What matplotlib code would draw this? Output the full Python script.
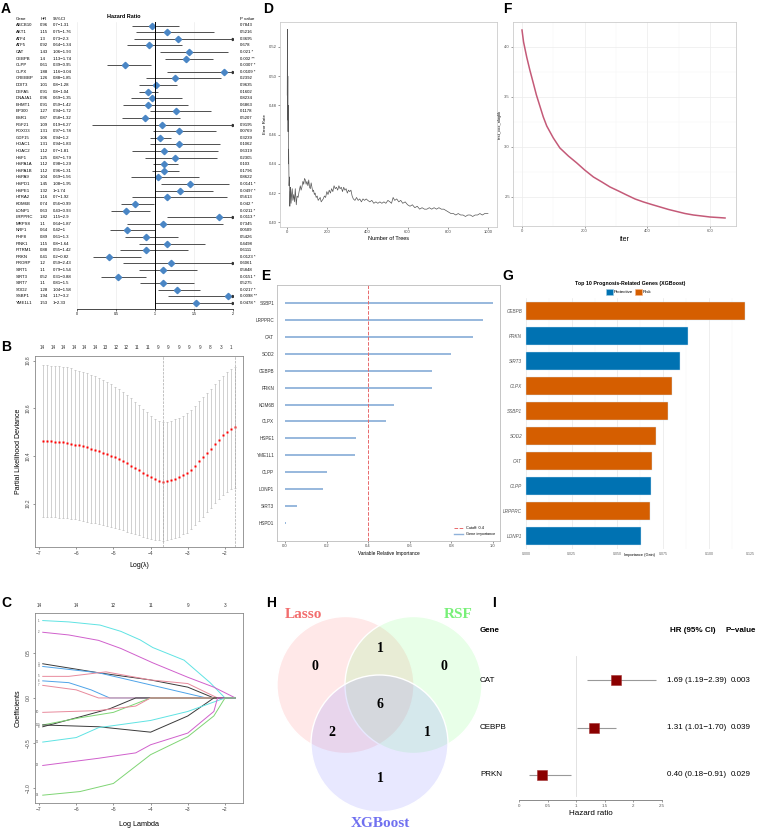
import numpy as np
import matplotlib
matplotlib.use("Agg")
import matplotlib.pyplot as plt
from matplotlib.patches import Circle, Patch
from matplotlib.lines import Line2D
from matplotlib.transforms import blended_transform_factory

# ---------------- data ----------------
# A: univariate Cox regression
genes_a = ["ABCB10", "AKT1", "ATF4", "ATF5", "CAT", "CEBPB", "CLPP", "CLPX", "CREBBP", "DDIT3",
           "DEFA5", "DNAJA1", "EHMT1", "EP300", "ESR1", "FGF21", "FOXO3", "GDF15", "HDAC1", "HDAC2",
           "HSF1", "HSPA1A", "HSPA1B", "HSPA9", "HSPD1", "HSPE1", "HTRA2", "KDM6B", "LONP1", "LRPPRC",
           "MRPS8", "NRF1", "PHF8", "PINK1", "PITRM1", "PRKN", "PRORP", "SIRT1", "SIRT3", "SIRT7",
           "SOD2", "SSBP1", "YME1L1"]
hr_a = [0.96, 1.15, 1.3, 0.92, 1.43, 1.4, 0.61, 1.88, 1.26, 1.01,
        0.91, 0.96, 0.91, 1.27, 0.87, 1.09, 1.31, 1.06, 1.31, 1.12,
        1.25, 1.12, 1.12, 1.04, 1.45, 1.32, 1.16, 0.74, 0.63, 1.82,
        1.1, 0.64, 0.89, 1.15, 0.88, 0.41, 1.2, 1.1, 0.52, 1.1,
        1.28, 1.94, 1.53]
lo_a = [0.7, 0.75, 0.73, 0.64, 1.06, 1.13, 0.39, 1.16, 0.88, 0.8,
        0.8, 0.69, 0.59, 0.94, 0.58, 0.19, 0.97, 0.94, 0.94, 0.7,
        0.87, 0.98, 0.96, 0.69, 1.08, 1, 0.7, 0.56, 0.43, 1.15,
        0.64, 0.42, 0.61, 0.8, 0.55, 0.2, 0.59, 0.79, 0.31, 0.81,
        1.04, 1.17, 1]
hi_a = [1.31, 1.76, 2.3, 1.34, 1.93, 1.74, 0.95, 3.04, 1.85, 1.28,
        1.04, 1.35, 1.42, 1.72, 1.32, 6.27, 1.78, 1.2, 1.83, 1.81,
        1.79, 1.29, 1.31, 1.56, 1.95, 1.74, 1.92, 0.99, 0.93, 2.9,
        1.87, 1, 1.3, 1.64, 1.42, 0.82, 2.43, 1.54, 0.88, 1.5,
        1.58, 3.2, 2.33]
p_a = ["0.7843", "0.5216", "0.3695", "0.678", "0.021 *", "0.002 **", "0.0307 *", "0.0109 *", "0.2392", "0.9635",
       "0.1602", "0.8234", "0.6863", "0.1178", "0.5207", "0.9195", "0.0769", "0.3239", "0.1062", "0.6319",
       "0.2305", "0.103", "0.1796", "0.8622", "0.0141 *", "0.0497 *", "0.5613", "0.042 *", "0.0211 *", "0.0113 *",
       "0.7345", "0.0509", "0.5426", "0.4498", "0.6111", "0.0123 *", "0.6061", "0.5848", "0.0151 *", "0.5275",
       "0.0217 *", "0.0098 **", "0.0478 *"]

# B: LASSO cross-validation
cv_mean = [10.462, 10.462, 10.461, 10.460, 10.459, 10.457, 10.455, 10.452, 10.448, 10.444,
           10.440, 10.436, 10.431, 10.426, 10.420, 10.414, 10.408, 10.401, 10.394, 10.386,
           10.378, 10.369, 10.360, 10.350, 10.340, 10.330, 10.320, 10.311, 10.303, 10.297,
           10.292, 10.296, 10.300, 10.305, 10.311, 10.320, 10.329, 10.342, 10.359, 10.379,
           10.396, 10.414, 10.431, 10.452, 10.468, 10.487, 10.502, 10.513, 10.520]
cv_se = [0.318, 0.318, 0.318, 0.317, 0.317, 0.316, 0.316, 0.315, 0.314, 0.313,
         0.312, 0.311, 0.310, 0.309, 0.307, 0.305, 0.303, 0.300, 0.297, 0.294,
         0.290, 0.286, 0.282, 0.278, 0.273, 0.268, 0.263, 0.258, 0.254, 0.251,
         0.249, 0.248, 0.248, 0.248, 0.249, 0.249, 0.250, 0.250, 0.250, 0.250,
         0.250, 0.249, 0.248, 0.248, 0.249, 0.250, 0.252, 0.253, 0.254]
cv_loglam_range = (-6.9, -1.72)
cv_nonzero = [14, 14, 14, 14, 14, 14, 13, 12, 12, 11, 11, 9, 9, 9, 9, 9, 8, 3, 1]
lam_min, lam_1se = -3.66, -1.72

# C: LASSO coefficient paths (log lambda, coefficient) knots
path_colors = ["#5fe3e3", "#d060cc", "#3a3a3a", "#4ea3e8", "#e88a9c", "#4ea3e8", "#e88a9c",
               "#3a3a3a", "#7fd574", "#e88a9c", "#3a3a3a", "#5fe3e3", "#d060cc", "#7fd574"]
coef_paths = [
    [(-6.9, 0.86), (-6.2, 0.845), (-5.36, 0.81), (-4.8, 0.74), (-4.28, 0.645), (-3.94, 0.56), (-3.1, 0.42), (-2.4, 0.17), (-2.0, 0.0), (-1.72, 0.0)],
    [(-6.9, 0.73), (-6.2, 0.70), (-5.4, 0.64), (-4.8, 0.55), (-3.94, 0.39), (-3.0, 0.23), (-2.3, 0.12), (-1.72, 0.0)],
    [(-6.9, 0.38), (-5.4, 0.28), (-4.0, 0.20), (-3.0, 0.12), (-2.3, 0.0), (-1.72, 0.0)],
    [(-6.9, 0.35), (-5.4, 0.28), (-4.0, 0.145), (-2.5, 0.0), (-1.72, 0.0)],
    [(-6.9, 0.24), (-6.2, 0.24), (-5.2, 0.29), (-4.0, 0.20), (-3.0, 0.16), (-2.2, 0.0), (-1.72, 0.0)],
    [(-6.9, 0.19), (-6.2, 0.17), (-5.6, 0.09), (-5.1, 0.0), (-1.72, 0.0)],
    [(-6.9, 0.14), (-6.0, 0.09), (-5.4, 0.0), (-1.72, 0.0)],
    [(-6.9, -0.32), (-5.9, -0.21), (-5.1, -0.12), (-4.4, 0.0), (-1.72, 0.0)],
    [(-6.9, -0.30), (-5.9, -0.22), (-5.0, -0.16), (-4.0, 0.0), (-1.72, 0.0)],
    [(-6.9, -0.16), (-5.4, -0.14), (-4.4, -0.09), (-4.0, 0.0), (-1.72, 0.0)],
    [(-6.9, -0.30), (-5.4, -0.32), (-4.0, -0.38), (-3.0, -0.20), (-2.3, 0.0), (-1.72, 0.0)],
    [(-6.9, -0.49), (-6.0, -0.44), (-5.4, -0.33), (-4.0, -0.25), (-3.0, -0.15), (-2.0, 0.0), (-1.72, 0.0)],
    [(-6.9, -0.75), (-5.4, -0.67), (-4.4, -0.61), (-4.0, -0.52), (-3.0, -0.39), (-2.3, -0.15), (-2.2, 0.0), (-1.72, 0.0)],
    [(-6.9, -1.08), (-5.9, -1.04), (-5.0, -0.95), (-4.0, -0.63), (-3.0, -0.43), (-2.3, -0.20), (-2.0, 0.0), (-1.72, 0.0)],
]
path_top_ticks = [-7, -6, -5, -4, -3, -2]
path_top_labels = ["14", "14", "12", "11", "9", "3"]

# D: random survival forest error rate (trees, error)
rf_curve = [(1, 0.487), (2, 0.532), (3, 0.470), (4, 0.500), (5, 0.462), (6, 0.480), (7, 0.440), (8, 0.450),
            (10, 0.425), (12, 0.431), (14, 0.411), (16, 0.421), (18, 0.424), (20, 0.413), (23, 0.419),
            (26, 0.423), (29, 0.415), (33, 0.419), (37, 0.414), (41, 0.423), (46, 0.412), (50, 0.418),
            (55, 0.417), (60, 0.421), (66, 0.425), (70, 0.422), (74, 0.424), (79, 0.428), (83, 0.426),
            (87, 0.430), (91, 0.429), (95, 0.426), (99, 0.428), (104, 0.425), (108, 0.429), (112, 0.424),
            (116, 0.423), (120, 0.427), (124, 0.424), (128, 0.421), (132, 0.422), (136, 0.419), (140, 0.420),
            (145, 0.417), (150, 0.418), (155, 0.415), (160, 0.416), (165, 0.417), (170, 0.414), (175, 0.415),
            (180, 0.416), (186, 0.418), (192, 0.417), (198, 0.421), (204, 0.419), (210, 0.422), (216, 0.420),
            (222, 0.423), (228, 0.421), (234, 0.425), (240, 0.423), (246, 0.424), (252, 0.422), (258, 0.425),
            (264, 0.423), (270, 0.424), (276, 0.421), (282, 0.424), (288, 0.422), (294, 0.423), (300, 0.420),
            (306, 0.422), (312, 0.421), (318, 0.422), (324, 0.418), (330, 0.416), (338, 0.415), (346, 0.417),
            (354, 0.415), (362, 0.416), (370, 0.414), (378, 0.416), (386, 0.415), (394, 0.416), (402, 0.415),
            (412, 0.414), (422, 0.415), (432, 0.413), (442, 0.414), (452, 0.413), (462, 0.414), (472, 0.413),
            (482, 0.414), (492, 0.413), (502, 0.415), (512, 0.414), (520, 0.413), (528, 0.417), (536, 0.415),
            (546, 0.416), (556, 0.414), (566, 0.415), (576, 0.413), (588, 0.414), (600, 0.412), (612, 0.411),
            (624, 0.412), (636, 0.410), (648, 0.411), (660, 0.409), (672, 0.410), (684, 0.409), (696, 0.409),
            (708, 0.410), (720, 0.409), (732, 0.410), (744, 0.409), (756, 0.410), (768, 0.409), (780, 0.409),
            (792, 0.408), (804, 0.407), (816, 0.406), (828, 0.406), (840, 0.405), (852, 0.406), (864, 0.405),
            (876, 0.405), (888, 0.404), (900, 0.405), (912, 0.405), (924, 0.404), (936, 0.405), (948, 0.405),
            (960, 0.406), (972, 0.405), (984, 0.406), (996, 0.406), (1000, 0.406)]

# E: RSF variable importance
rsf_genes = ["SSBP1", "LRPPRC", "CAT", "SOD2", "CEBPB", "PRKN", "KDM6B", "CLPX", "HSPE1", "YME1L1",
             "CLPP", "LONP1", "SIRT3", "HSPD1"]
rsf_imp = [1.0, 0.95, 0.904, 0.80, 0.706, 0.705, 0.526, 0.486, 0.342, 0.339, 0.20, 0.181, 0.056, 0.005]
rsf_cutoff = 0.4

# F: XGBoost training loss
xgb_curve = [(0, 4.17), (5, 4.05), (15, 3.90), (25, 3.77), (36, 3.64), (46, 3.52), (57, 3.41), (68, 3.30),
             (79, 3.21), (100, 3.09), (121, 2.99), (148, 2.91), (175, 2.84), (200, 2.77), (228, 2.70),
             (255, 2.65), (281, 2.60), (308, 2.56), (334, 2.52), (361, 2.48), (388, 2.45), (414, 2.425),
             (441, 2.40), (468, 2.375), (494, 2.355), (520, 2.335), (547, 2.32), (574, 2.31), (600, 2.30),
             (625, 2.295), (648, 2.29)]

# G: XGBoost top-10 importance
g_genes = ["CEBPB", "PRKN", "SIRT3", "CLPX", "SSBP1", "SOD2", "CAT", "CLPP", "LRPPRC", "LONP1"]
g_imp = [0.1197, 0.0885, 0.0842, 0.0801, 0.0774, 0.0710, 0.0689, 0.0683, 0.0679, 0.0628]
g_dir = ["Risk", "Protective", "Protective", "Risk", "Risk", "Risk", "Risk", "Protective", "Risk", "Protective"]

# H: Venn counts
venn_sets = ["Lasso", "RSF", "XGBoost"]
venn_counts = {"L": 0, "R": 0, "X": 1, "LR": 1, "LX": 2, "RX": 1, "LRX": 6}

# I: multivariate Cox
i_genes = ["CAT", "CEBPB", "PRKN"]
i_hr = [1.69, 1.31, 0.40]
i_lo = [1.19, 1.01, 0.18]
i_hi = [2.39, 1.70, 0.91]
i_p = ["0.003", "0.039", "0.029"]

# ---------------- figure ----------------
plt.rcParams['font.family'] = ['Liberation Sans', 'DejaVu Sans']
W, H = 757, 831
fig = plt.figure(figsize=(W / 100, H / 100), dpi=100)


def px_ax(x0, y0, x1, y1):
    return fig.add_axes([x0 / W, 1 - y1 / H, (x1 - x0) / W, (y1 - y0) / H])


def ft(x, y, s, **kw):
    return fig.text(x / W, 1 - y / H, s, **kw)


# panel letters
for lab, (x, y) in {"A": (6, 9), "B": (6, 347), "C": (6, 603), "D": (268, 9), "E": (266, 276),
                    "F": (507, 9), "G": (508, 276), "H": (271, 603), "I": (494, 603)}.items():
    ft(x, y, lab, fontsize=10, fontweight="bold", ha="center", va="center")

# ---------- A ----------
axA = px_ax(77, 22, 233, 309)
n = len(genes_a)
ya = np.arange(n)
pitch = (303 - 25.5) / (n - 1)
axA.set_xlim(0, 2)
axA.set_ylim((309 - 25.5) / pitch, (22 - 25.5) / pitch)
hi_clip = np.minimum(hi_a, 2)
axA.hlines(ya, lo_a, hi_clip, color="#333333", lw=0.6)
axA.plot(hr_a, ya, "D", color="#4a86c5", ms=3.2, mec="#4a86c5")
clipped = [i for i in range(n) if hi_a[i] > 2]
axA.plot(hi_clip[clipped], ya[clipped], ">", color="#333333", ms=1.6)
axA.axvline(1, color="black", lw=0.7)
axA.set_xticks([0, 0.5, 1, 1.5, 2])
axA.set_xticklabels(["0", "0.5", "1", "1.5", "2"], fontsize=2.6)
axA.tick_params(axis="x", length=1.2, width=0.4, pad=1)
axA.set_yticks([])
axA.grid(axis="x", color="#e6e6e6", lw=0.4)
axA.set_axisbelow(True)
for s in ["left", "right", "top"]:
    axA.spines[s].set_visible(False)
axA.spines["bottom"].set_linewidth(0.5)
dx = lambda px: (px - 77) / 78.0
hdr = (19 - 25.5) / pitch
axA.text(dx(16), hdr, "Gene", fontsize=3.2, va="center")
axA.text(dx(41), hdr, "HR", fontsize=3.2, va="center")
axA.text(dx(53), hdr, "95%CI", fontsize=3.2, va="center")
axA.text(dx(240), hdr, "P value", fontsize=3.2, va="center")
axA.text(dx(124), (16 - 25.5) / pitch, "Hazard Ratio", fontsize=4, fontweight="bold", ha="center", va="center")
for i in range(n):
    axA.text(dx(16), i, genes_a[i], fontsize=3.1, va="center")
    axA.text(dx(40), i, f"{hr_a[i]:g}", fontsize=3.1, va="center")
    axA.text(dx(53), i, f"{lo_a[i]:g}\u2212{hi_a[i]:g}", fontsize=3.1, va="center")
    axA.text(dx(240), i, p_a[i], fontsize=3.1, va="center")

# ---------- B ----------
axB = px_ax(35, 356, 243, 547)
loglam = np.linspace(cv_loglam_range[0], cv_loglam_range[1], len(cv_mean))
axB.errorbar(loglam, cv_mean, yerr=cv_se, fmt="none", ecolor="#bdbdbd", elinewidth=0.5, capsize=1.0, capthick=0.5)
axB.plot(loglam, cv_mean, "s", color="red", ms=1.6, mec="none")
axB.axvline(lam_min, ls="--", color="#aaaaaa", lw=0.5)
axB.axvline(lam_1se, ls="--", color="#aaaaaa", lw=0.5)
axB.set_xlim(-7.108, -1.516)
axB.set_ylim(10.0184, 10.819)
axB.set_xticks([-7, -6, -5, -4, -3, -2])
axB.set_yticks([10.2, 10.4, 10.6, 10.8])
axB.set_yticklabels(["10.2", "10.4", "10.6", "10.8"], rotation=90, va="center")
axB.tick_params(labelsize=3.5, length=1.5, width=0.4, pad=1.5, colors="#444444")
for s in axB.spines.values():
    s.set_color("#888888")
    s.set_linewidth(0.6)
axB.set_xlabel("Log(\u03bb)", fontsize=5, labelpad=4)
axB.set_ylabel("Partial Likelihood Deviance", fontsize=5, labelpad=3)
top_pos = np.linspace(-6.9, -1.83, len(cv_nonzero))
trB = axB.get_xaxis_transform()
for xp, nz in zip(top_pos, cv_nonzero):
    axB.text(xp, 1.042, str(nz), transform=trB, fontsize=3.3, ha="center", va="center", color="#333333")

# ---------- C ----------
axC = px_ax(35, 613, 243, 803)
for k, (pts, col) in enumerate(zip(coef_paths, path_colors)):
    xs = [p[0] for p in pts]
    ys = [p[1] for p in pts]
    axC.plot(xs, ys, color=col, lw=0.7)
    axC.text(-7.0, ys[0], str(k + 1), fontsize=2, ha="right", va="center", color="#555555")
axC.set_xlim(-7.108, -1.516)
axC.set_ylim(-1.167, 0.944)
axC.set_xticks([-7, -6, -5, -4, -3, -2])
axC.set_yticks([-1.0, -0.5, 0.0, 0.5])
axC.set_yticklabels(["\u22121.0", "\u22120.5", "0.0", "0.5"], rotation=90, va="center")
axC.tick_params(labelsize=3.5, length=1.5, width=0.4, pad=1.5, colors="#444444")
for s in axC.spines.values():
    s.set_color("#888888")
    s.set_linewidth(0.6)
axC.set_xlabel("Log Lambda", fontsize=5.2, labelpad=6)
axC.set_ylabel("Coefficients", fontsize=5.2, labelpad=3)
trC = axC.get_xaxis_transform()
for xp, lab in zip(path_top_ticks, path_top_labels):
    axC.text(xp, 1.04, lab, transform=trC, fontsize=3.3, ha="center", va="center", color="#333333")

# ---------- D ----------
axD = px_ax(280, 22, 497, 227)
rf_trees = [p[0] for p in rf_curve]
rf_err = [p[1] for p in rf_curve]
axD.plot(rf_trees, rf_err, color="#555555", lw=0.5)
axD.set_xlim(-35, 1045)
axD.set_ylim(0.3968, 0.537)
axD.set_xticks([0, 200, 400, 600, 800, 1000])
axD.set_yticks([0.40, 0.42, 0.44, 0.46, 0.48, 0.50, 0.52])
axD.set_yticklabels(["0.40", "0.42", "0.44", "0.46", "0.48", "0.50", "0.52"])
axD.tick_params(labelsize=3, length=1.2, width=0.4, pad=1, colors="#444444")
for s in axD.spines.values():
    s.set_color("#cccccc")
    s.set_linewidth(0.6)
axD.set_xlabel("Number of Trees", fontsize=4, labelpad=1.5)
axD.set_ylabel("Error Rate", fontsize=3.2, labelpad=1.5)

# ---------- E ----------
axE = px_ax(277, 285, 500, 541)
ye = np.arange(len(rsf_genes))
epitch = (523 - 303) / (len(rsf_genes) - 1)
axE.set_xlim(-0.0385, 1.034)
axE.set_ylim((541 - 303) / epitch, (285 - 303) / epitch)
axE.hlines(ye, 0, rsf_imp, color="#8fb2da", lw=1.3)
axE.axvline(rsf_cutoff, color="#e8696b", ls="--", lw=0.7)
axE.set_yticks(ye)
axE.set_yticklabels(rsf_genes, fontsize=3.3, color="#333333")
axE.set_xticks([0, 0.2, 0.4, 0.6, 0.8, 1.0])
axE.set_xticklabels(["0.0", "0.2", "0.4", "0.6", "0.8", "1.0"])
axE.tick_params(axis="x", labelsize=3, length=1.2, width=0.4, pad=1, colors="#444444")
axE.tick_params(axis="y", length=0, pad=2)
for s in axE.spines.values():
    s.set_color("#bbbbbb")
    s.set_linewidth(0.6)
axE.set_xlabel("Variable Relative Importance", fontsize=3.4, labelpad=2)
axE.legend(handles=[Line2D([], [], color="#e8696b", ls="--", lw=0.7),
                    Line2D([], [], color="#8fb2da", lw=1.0)],
           labels=[f"Cutoff: {rsf_cutoff}", "Gene importance"], loc="lower right",
           fontsize=2.8, frameon=False, handlelength=2.2, borderaxespad=0.8)

# ---------- F ----------
axF = px_ax(513, 22, 736, 226)
xgb_iter = [p[0] for p in xgb_curve]
xgb_loss = [p[1] for p in xgb_curve]
axF.plot(xgb_iter, xgb_loss, color="#c45a78", lw=1.1)
axF.set_xlim(-28.7, 683)
axF.set_ylim(2.21, 4.25)
axF.set_xticks([0, 200, 400, 600])
axF.set_xticks([100, 300, 500], minor=True)
axF.set_yticks([2.5, 3.0, 3.5, 4.0])
axF.set_yticks([2.75, 3.25, 3.75], minor=True)
axF.grid(which="major", color="#ececec", lw=0.5)
axF.grid(which="minor", color="#f4f4f4", lw=0.3)
axF.set_axisbelow(True)
axF.tick_params(which="both", labelsize=3, length=1.2, width=0.4, pad=1, colors="#555555")
axF.tick_params(which="minor", length=0)
for s in axF.spines.values():
    s.set_color("#cccccc")
    s.set_linewidth(0.6)
axF.set_xlabel("iter", fontsize=5, labelpad=2)
axF.set_ylabel("test_cox_nloglik", fontsize=3, labelpad=1.5)

# ---------- G ----------
axG = px_ax(525, 298, 755, 549)
yg = np.arange(len(g_genes))
gcol = {"Protective": "#0072B2", "Risk": "#D55E00"}
axG.barh(yg, g_imp, height=0.7, color=[gcol[d] for d in g_dir], edgecolor="#cfe3f3", linewidth=0.3)
axG.set_ylim(9.52, -0.52)
axG.set_xlim(-0.0005, 0.1252)
axG.set_xticks([0, 0.025, 0.05, 0.075, 0.1, 0.125])
axG.set_xticklabels(["0.000", "0.025", "0.050", "0.075", "0.100", "0.125"])
axG.get_xticklabels()[-1].set_horizontalalignment("right")
axG.set_xticks([0.0125, 0.0375, 0.0625, 0.0875, 0.1125], minor=True)
axG.grid(axis="x", which="major", color="#e8e8e8", lw=0.5)
axG.grid(axis="x", which="minor", color="#f2f2f2", lw=0.3)
axG.set_axisbelow(True)
axG.set_yticks(yg)
axG.set_yticklabels(g_genes, fontsize=3.3, style="italic", color="#555555")
axG.tick_params(axis="x", which="both", labelsize=2.6, length=0, pad=2, colors="#666666")
axG.tick_params(axis="y", length=0, pad=2)
for s in axG.spines.values():
    s.set_visible(False)
axG.set_xlabel("Importance (Gain)", fontsize=2.8, labelpad=-2)
ft(630, 283, "Top 10 Prognosis-Related Genes (XGBoost)", fontsize=3.8, fontweight="bold", ha="center", va="center")
fig.legend(handles=[Patch(fc=gcol["Protective"], ec="#9ecae1", lw=0.4), Patch(fc=gcol["Risk"], ec="#f5b48a", lw=0.4)],
           labels=["Protective", "Risk"], loc="center", bbox_to_anchor=(629 / W, 1 - 292 / H), ncol=2,
           fontsize=3.2, frameon=False, handlelength=1.4, handleheight=1.4, columnspacing=0.5,
           handletextpad=0.3, borderpad=0)

# ---------- H ----------
axH = px_ax(270, 595, 510, 831)
axH.set_xlim(270, 510)
axH.set_ylim(831, 595)
axH.axis("off")
circ = {"Lasso": ((345.5, 685), (1.0, 0.55, 0.55, 0.20)),
        "RSF": ((413.5, 685), (0.55, 1.0, 0.55, 0.20)),
        "XGBoost": ((379.5, 743.5), (0.55, 0.55, 1.0, 0.20))}
for name in venn_sets:
    c, fc = circ[name]
    axH.add_patch(Circle(c, 68.5, facecolor=fc, edgecolor="white", lw=1.0))
num_pos = {"L": (315, 667), "R": (444, 667), "LR": (380, 649), "LRX": (380, 704),
           "LX": (332, 732), "RX": (427, 732), "X": (380, 778)}
for key, (x, y) in num_pos.items():
    axH.text(x, y, str(venn_counts[key]), fontsize=10, fontweight="bold", family="Liberation Serif",
             ha="center", va="center", color="black")
axH.text(303, 615, "Lasso", fontsize=11, fontweight="bold", family="Liberation Serif", color="#f26d6d",
         ha="center", va="center")
axH.text(458, 615, "RSF", fontsize=11, fontweight="bold", family="Liberation Serif", color="#78f078",
         ha="center", va="center")
axH.text(380, 823, "XGBoost", fontsize=11, fontweight="bold", family="Liberation Serif", color="#7070f0",
         ha="center", va="center")

# ---------- I ----------
axI = px_ax(519, 650, 662, 800)
yi = np.arange(len(i_genes))
ipitch = 47.5
axI.set_xlim(0, 2.5)
axI.set_ylim((800 - 680) / ipitch, (650 - 680) / ipitch)
axI.axvline(1, color="#dddddd", lw=0.6, ymin=0.03, ymax=0.96)
axI.hlines(yi, i_lo, i_hi, color="#999999", lw=0.8)
axI.plot(i_hr, yi, "s", color="#8b0000", ms=7, mec="#a33333", mew=0.4)
axI.set_yticks([])
axI.set_xticks([0, 0.5, 1, 1.5, 2, 2.5])
axI.set_xticklabels(["0", "0.5", "1", "1.5", "2", "2.5"])
axI.tick_params(axis="x", labelsize=3.2, length=1.5, width=0.4, pad=1.5, colors="#555555")
for s in ["left", "right", "top"]:
    axI.spines[s].set_visible(False)
axI.spines["bottom"].set_color("#777777")
axI.spines["bottom"].set_linewidth(0.6)
axI.set_xlabel("Hazard ratio", fontsize=5.8, labelpad=1)
trI = blended_transform_factory(fig.transFigure, axI.transData)
for k in range(len(i_genes)):
    axI.text(480 / W, k, i_genes[k], transform=trI, fontsize=5.8, va="center", ha="left")
    axI.text(667 / W, k, f"{i_hr[k]:.2f} ({i_lo[k]:.2f}\u2212{i_hi[k]:.2f})", transform=trI,
             fontsize=5.8, va="center", ha="left")
    axI.text(731 / W, k, i_p[k], transform=trI, fontsize=5.8, va="center", ha="left")
ft(480, 631, "Gene", fontsize=5.8, fontweight="bold", ha="left", va="center")
ft(670, 631, "HR (95% CI)", fontsize=5.8, fontweight="bold", ha="left", va="center")
ft(725, 631, "P\u2212value", fontsize=5.8, fontweight="bold", ha="left", va="center")

fig.savefig("out.png", dpi=100)
